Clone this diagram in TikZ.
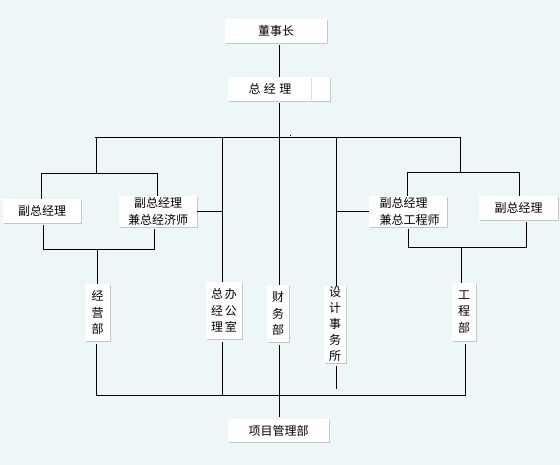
\documentclass[tikz,border=0pt]{standalone}
\usepackage{fontspec}
\newfontfamily\cjk{Noto Sans CJK SC}
\usetikzlibrary{shadows}
\definecolor{bgc}{RGB}{238,247,248}
\definecolor{shd}{RGB}{198,198,198}
\definecolor{divc}{RGB}{222,222,222}
\begin{document}
\begin{tikzpicture}[x=1pt,y=-1pt,
  box/.style={fill=white, inner sep=0pt, align=center,
    font=\cjk\fontsize{12}{16.5}\selectfont,
    drop shadow={shadow xshift=1.2pt, shadow yshift=-1.2pt, fill=shd, opacity=1}},
  vbox/.style={box, font=\cjk\fontsize{12}{16.7}\selectfont},
  conn/.style={line width=0.9pt, black}]
\fill[bgc] (0,0) rectangle (560,465);
\useasboundingbox (0,0) rectangle (560,465);

% boxes
\node[box, minimum width=102pt, minimum height=24pt] (dsz) at (276,31) {董事长};
\node[box, minimum width=102pt, minimum height=24pt] (zjl) at (279,89) {};
\node[font=\cjk\fontsize{12}{14}\selectfont, inner sep=0pt] (zjlt) at (270,89) {总\hspace{3.5pt}经\hspace{3.5pt}理};
\draw[divc, line width=0.8pt] (311,78) -- (311,100);

\node[box, minimum width=78pt, minimum height=24pt] (vp1) at (42,211) {副总经理};
\node[box, minimum width=78pt, minimum height=31pt] (vp2) at (158,211.5) {副总经理\\兼总经济师};
\node[box, align=left, minimum width=78pt, minimum height=31pt] (vp3) at (408,211.5) {\hspace*{3pt}副总经理\\\hspace*{3pt}兼总工程师};
\node[box, minimum width=79pt, minimum height=24pt] (vp4) at (518.5,208) {副总经理};

\node[vbox, minimum width=25pt, minimum height=57pt] (jyb) at (97.5,312.5) {经\\营\\部};
\node[vbox, minimum width=36pt, minimum height=57pt] (bgs) at (224,310.5) {总\hspace{2pt}办\\经\hspace{2pt}公\\理\hspace{2pt}室};
\node[vbox, minimum width=22pt, minimum height=57pt] (cwb) at (278,313.5) {财\\务\\部};
\node[vbox, font=\cjk\fontsize{12}{16}\selectfont, minimum width=22pt, minimum height=77pt] (sjs) at (335,324.5) {设\\计\\事\\务\\所};
\node[vbox, minimum width=24pt, minimum height=58pt] (gcb) at (464,312) {工\\程\\部};
\node[box, minimum width=101pt, minimum height=23pt] (xmb) at (278.5,430.5) {项目管理部};

% coordinates of the bus lines
\coordinate (t) at (279,137);
\coordinate (tl) at (95,137);
\coordinate (tr) at (460,137);
\coordinate (tick) at (290.5,135);
\coordinate (c96) at (96,137);
\coordinate (c222) at (222,137);
\coordinate (c336) at (336,137);

\coordinate (lh) at (96,173);
\coordinate (lha) at (41,173);
\coordinate (lhb) at (157,173);
\coordinate (rh) at (460,172);
\coordinate (rha) at (407,172);
\coordinate (rhb) at (519,172);

\coordinate (lla) at (43,249);
\coordinate (llb) at (154,249);
\coordinate (llm) at (97,249);
\coordinate (rla) at (408,247);
\coordinate (rlb) at (526,247);
\coordinate (rlm) at (461,247);

\coordinate (bl) at (96,395);
\coordinate (br) at (465,395);
\coordinate (b222) at (222,395);
\coordinate (sjsend) at (336,389);

% connectors
\draw[conn] ([yshift=-2pt]dsz.south -| t) -- (zjl.north -| t);
\draw[conn] ([yshift=-2pt]zjl.south -| t) -- (t);
\draw[conn] (tl) -- (tr);
\draw[line width=0.8pt] (tick) -- ++(0,1);

\draw[conn] (c96) -- (lh);
\draw[conn] (vp1.north -| lha) -- (lha) -- (lhb) -- (vp2.north -| lhb);
\draw[conn] (c222) -- (bgs.north -| c222);
\draw[conn] (vp2.east) -- (vp2.east -| c222);
\draw[conn] (t) -- (cwb.north -| t);
\draw[conn] (c336) -- (sjs.north -| c336);
\draw[conn] (vp3.west -| c336) -- (vp3.west);
\draw[conn] (tr) -- (rh);
\draw[conn] (vp3.north -| rha) -- (rha) -- (rhb) -- (vp4.north -| rhb);

\draw[conn] ([yshift=-2pt]vp1.south -| lla) -- (lla) -- (llb) -- ([yshift=-2pt]vp2.south -| llb);
\draw[conn] (llm) -- (jyb.north -| llm);
\draw[conn] ([yshift=-2pt]vp3.south -| rla) -- (rla) -- (rlb) -- ([yshift=-2pt]vp4.south -| rlb);
\draw[conn] (rlm) -- (gcb.north -| rlm);

\draw[conn] ([yshift=-3pt]jyb.south -| bl) -- (bl) -- (br) -- ([yshift=-3pt]gcb.south -| br);
\draw[conn] ([yshift=-3pt]bgs.south -| b222) -- (b222);
\draw[conn] ([yshift=-3pt]cwb.south -| t) -- ([yshift=2pt]xmb.north -| t);
\draw[conn] ([yshift=-3pt]sjs.south -| sjsend) -- (sjsend);
\end{tikzpicture}
\end{document}
